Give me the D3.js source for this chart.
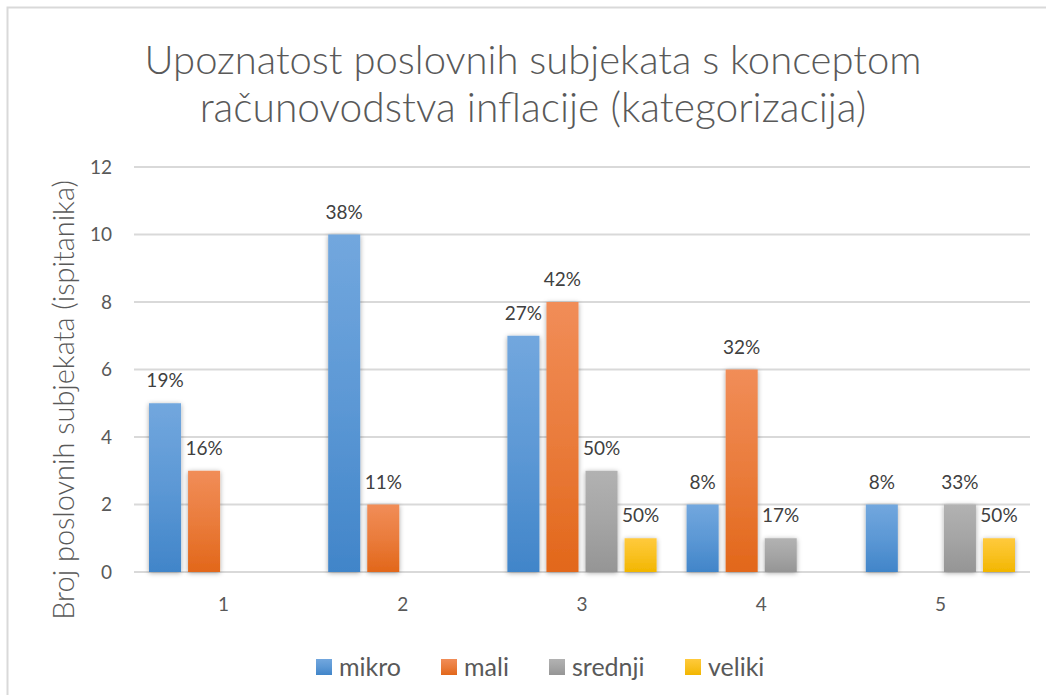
<!doctype html>
<html lang="en">
<head>
<meta charset="utf-8">
<title>Upoznatost poslovnih subjekata</title>
<script src="https://cdn.jsdelivr.net/npm/d3@7"></script>
<style>
    html, body { margin: 0; padding: 0; background: #fff; }
    svg { display: block; font-family: Lato, "Open Sans", sans-serif; }
    .grid line { stroke: #d9d9d9; stroke-width: 2; }
    .tick-label { font-size: 19px; fill: #595959; }
    .bar-label { font-size: 19px; fill: #404040; text-anchor: middle; }
</style>
</head>
<body>
<svg id="chart" width="1046" height="695"></svg>
<script>
    const categories = ["1", "2", "3", "4", "5"];
    const seriesNames = ["mikro", "mali", "srednji", "veliki"];
    const mikro   = [5, 10, 7, 2, 2];
    const mali    = [3, 2, 8, 6, 0];
    const srednji = [0, 0, 3, 1, 2];
    const veliki  = [0, 0, 1, 0, 1];
    const mikroPct   = ["19%", "38%", "27%", "8%", "8%"];
    const maliPct    = ["16%", "11%", "42%", "32%", ""];
    const srednjiPct = ["", "", "50%", "17%", "33%"];
    const velikiPct  = ["", "", "50%", "", "50%"];
    const yTicks = [0, 2, 4, 6, 8, 10, 12];

    const values = [mikro, mali, srednji, veliki];
    const labels = [mikroPct, maliPct, srednjiPct, velikiPct];
    // top/bottom colours of each bar gradient
    const colors = [
        ["#72a7de", "#4185c9"],
        ["#f18d58", "#e2671a"],
        ["#b2b2b2", "#959595"],
        ["#ffca3c", "#f2b600"]
    ];

    const margin = {left: 134, right: 16, top: 167, bottom: 123};
    const W = 1046, H = 695;

    const svg = d3.select("#chart");
    const defs = svg.append("defs");

    colors.forEach((c, i) => {
        const g = defs.append("linearGradient")
            .attr("id", "grad" + i)
            .attr("x1", 0).attr("y1", 0).attr("x2", 0).attr("y2", 1);
        g.append("stop").attr("offset", "0%").attr("stop-color", c[0]);
        g.append("stop").attr("offset", "50%").attr("stop-color", d3.interpolateRgb(c[0], c[1])(0.45));
        g.append("stop").attr("offset", "100%").attr("stop-color", c[1]);
    });

    const shadow = defs.append("filter").attr("id", "shadow")
        .attr("x", "-40%").attr("y", "-20%").attr("width", "180%").attr("height", "140%");
    shadow.append("feDropShadow")
        .attr("dx", 0).attr("dy", 1).attr("stdDeviation", 2.5)
        .attr("flood-color", "#000").attr("flood-opacity", 0.35);

    // chart frame
    svg.append("rect")
        .attr("x", 7.5).attr("y", 7.5)
        .attr("width", 1100).attr("height", 800)
        .attr("fill", "#fff")
        .attr("stroke", "#d9d9d9").attr("stroke-width", 2);

    const x0 = d3.scaleBand()
        .domain(categories)
        .range([margin.left, W - margin.right]);

    const x1 = d3.scaleBand()
        .domain(seriesNames)
        .range([15, x0.bandwidth() - 15])
        .paddingInner(0.18);

    const y = d3.scaleLinear()
        .domain([0, 12])
        .range([H - margin.bottom, margin.top]);

    // gridlines
    svg.append("g").attr("class", "grid")
        .selectAll("line")
        .data(yTicks)
        .enter().append("line")
            .attr("x1", margin.left)
            .attr("x2", W - margin.right)
            .attr("y1", d => y(d))
            .attr("y2", d => y(d));

    // y tick labels
    svg.append("g")
        .selectAll("text")
        .data(yTicks)
        .enter().append("text")
            .attr("class", "tick-label")
            .attr("x", 112)
            .attr("y", d => y(d))
            .attr("dy", "0.35em")
            .attr("text-anchor", "end")
            .text(d => d);

    // x tick labels
    svg.append("g")
        .selectAll("text")
        .data(categories)
        .enter().append("text")
            .attr("class", "tick-label")
            .attr("x", d => x0(d) + x0.bandwidth() / 2)
            .attr("y", 604)
            .attr("dy", "0.35em")
            .attr("text-anchor", "middle")
            .text(d => d);

    // bars
    const rows = [];
    seriesNames.forEach((s, si) => {
        categories.forEach((c, ci) => {
            rows.push({cat: c, series: s, si: si, value: values[si][ci], label: labels[si][ci]});
        });
    });

    svg.append("g")
        .selectAll("rect")
        .data(rows.filter(d => d.value > 0))
        .enter().append("rect")
            .attr("x", d => x0(d.cat) + x1(d.series))
            .attr("y", d => y(d.value))
            .attr("width", x1.bandwidth())
            .attr("height", d => y(0) - y(d.value))
            .attr("fill", d => "url(#grad" + d.si + ")")
            .attr("filter", "url(#shadow)");

    svg.append("g")
        .selectAll("text")
        .data(rows.filter(d => d.label))
        .enter().append("text")
            .attr("class", "bar-label")
            .attr("x", d => x0(d.cat) + x1(d.series) + x1.bandwidth() / 2)
            .attr("y", d => y(d.value) - 16)
            .text(d => d.label);

    // scale a text's font size so it takes the width seen in the reference
    function fit(el, size, width) {
        const w = el.node().getComputedTextLength();
        el.attr("font-size", size * width / w);
    }

    // y axis title
    const yTitle = svg.append("text")
        .attr("transform", "translate(74,400) rotate(-90)")
        .attr("text-anchor", "middle")
        .attr("font-size", 24)
        .attr("font-weight", 300)
        .attr("fill", "#595959")
        .text("Broj poslovnih subjekata (ispitanika)");
    fit(yTitle, 24, 440);

    // title
    const titleLines = [
        {text: "Upoznatost poslovnih subjekata s konceptom", y: 74, width: 777},
        {text: "računovodstva inflacije (kategorizacija)", y: 122, width: 667}
    ];
    titleLines.forEach(t => {
        const el = svg.append("text")
            .attr("x", 533)
            .attr("y", t.y)
            .attr("text-anchor", "middle")
            .attr("font-size", 36)
            .attr("font-weight", 300)
            .attr("fill", "#595959")
            .text(t.text);
        fit(el, 36, t.width);
    });

    // legend
    const legendX = [316, 441, 549, 685];
    const legend = svg.append("g")
        .selectAll("g")
        .data(seriesNames)
        .enter().append("g")
            .attr("transform", (d, i) => "translate(" + legendX[i] + ",659)");
    legend.append("rect")
        .attr("width", 16).attr("height", 16)
        .attr("fill", (d, i) => "url(#grad" + i + ")");
    legend.append("text")
        .attr("x", 23).attr("y", 8)
        .attr("dy", "0.35em")
        .attr("font-size", 25)
        .attr("fill", "#595959")
        .text(d => d);
</script>
</body>
</html>
